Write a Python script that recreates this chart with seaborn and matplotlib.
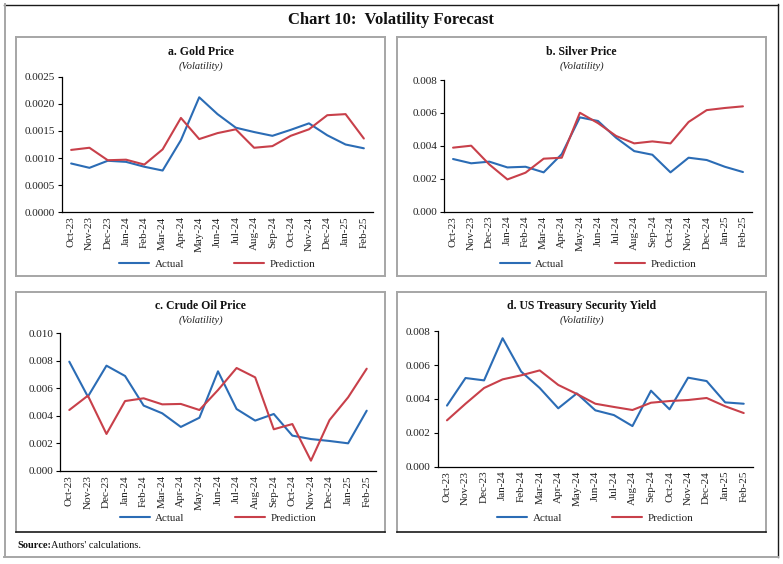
import matplotlib
matplotlib.use("Agg")
import matplotlib.pyplot as plt
from matplotlib.lines import Line2D
import seaborn as sns
import pandas as pd
import numpy as np

months = ["Oct-23", "Nov-23", "Dec-23", "Jan-24", "Feb-24", "Mar-24", "Apr-24", "May-24",
          "Jun-24", "Jul-24", "Aug-24", "Sep-24", "Oct-24", "Nov-24", "Dec-24", "Jan-25", "Feb-25"]

gold_actual = [0.00090, 0.00082, 0.00095, 0.00093, 0.00084, 0.00077, 0.00133, 0.00212, 0.00181,
               0.00156, 0.00148, 0.00141, 0.00152, 0.00164, 0.00142, 0.00125, 0.00118]
gold_pred = [0.00115, 0.00119, 0.00096, 0.00097, 0.00088, 0.00116, 0.00174, 0.00135, 0.00146,
             0.00153, 0.00119, 0.00122, 0.00141, 0.00153, 0.00179, 0.00181, 0.00136]

silver_actual = [0.00320, 0.00294, 0.00304, 0.00269, 0.00273, 0.00239, 0.00350, 0.00573, 0.00551,
                 0.00449, 0.00368, 0.00346, 0.00239, 0.00328, 0.00314, 0.00273, 0.00241]
silver_pred = [0.00389, 0.00401, 0.00287, 0.00196, 0.00237, 0.00322, 0.00328, 0.00601, 0.00538,
               0.00460, 0.00415, 0.00427, 0.00415, 0.00545, 0.00617, 0.00630, 0.00640]

crude_actual = [0.00794, 0.00540, 0.00765, 0.00690, 0.00475, 0.00419, 0.00320, 0.00387, 0.00724,
                0.00450, 0.00366, 0.00414, 0.00257, 0.00232, 0.00218, 0.00201, 0.00438]
crude_pred = [0.00443, 0.00547, 0.00269, 0.00508, 0.00528, 0.00484, 0.00487, 0.00443, 0.00588,
              0.00748, 0.00680, 0.00303, 0.00341, 0.00075, 0.00370, 0.00535, 0.00743]

ust_actual = [0.00361, 0.00524, 0.00510, 0.00759, 0.00562, 0.00465, 0.00345, 0.00433, 0.00333,
              0.00305, 0.00240, 0.00449, 0.00339, 0.00526, 0.00506, 0.00380, 0.00372]
ust_pred = [0.00274, 0.00372, 0.00465, 0.00516, 0.00540, 0.00569, 0.00483, 0.00430, 0.00372,
            0.00353, 0.00335, 0.00378, 0.00388, 0.00394, 0.00406, 0.00357, 0.00317]

series_names = ["Actual", "Prediction"]
panel_titles = ["a. Gold Price", "b. Silver Price", "c. Crude Oil Price", "d. US Treasury Security Yield"]
subtitle = "(Volatility)"
main_title = "Chart 10:  Volatility Forecast"
source_bold = "Source:"
source_text = "Authors' calculations."

y_limits = [(0.0, 0.0025, 0.0005, "{:.4f}"), (0.0, 0.008, 0.002, "{:.3f}"),
            (0.0, 0.010, 0.002, "{:.3f}"), (0.0, 0.008, 0.002, "{:.3f}")]

colors = {"Actual": "#2b6cb5", "Prediction": "#c8404a"}

sns.set_theme(style="white")
plt.rcParams["font.family"] = ["Liberation Serif", "DejaVu Serif"]

W, H = 783, 564
fig = plt.figure(figsize=(W / 100, H / 100), dpi=100)
fig.patch.set_facecolor("white")


def frac_rect(l, t, r, b):
    return [l / W, 1 - b / H, (r - l) / W, (b - t) / H]


def line_px(x0, y0, x1, y1, color, lw):
    fig.add_artist(Line2D([x0 / W, x1 / W], [1 - y0 / H, 1 - y1 / H], color=color, lw=lw,
                          transform=fig.transFigure, solid_capstyle="projecting"))


gray = "#a6a6a6"
dark = "#1a1a1a"
# outer frame
line_px(4, 4.5, 778, 4.5, dark, 1.0)
line_px(777.5, 4, 777.5, 557, dark, 1.0)
line_px(4.5, 4, 4.5, 557, gray, 1.4)
line_px(4, 556.5, 778, 556.5, gray, 1.4)

# panel boxes
boxes = [(16, 37, 385, 276), (397, 37, 766, 276), (16, 292, 385, 532), (397, 292, 766, 532)]
for i, (l, t, r, b) in enumerate(boxes):
    line_px(l, t, r, t, gray, 1.4)
    line_px(l, t, l, b, gray, 1.4)
    line_px(r, t, r, b, gray, 1.4)
    line_px(l, b, r, b, dark if i >= 2 else gray, 1.2 if i >= 2 else 1.4)

fig.text(391 / W, 1 - 20 / H, main_title, ha="center", va="center", fontsize=12,
         fontweight="bold", color="#111111")
fig.text(17 / W, 1 - 545 / H, source_bold, ha="left", va="center", fontsize=7.5,
         fontweight="bold", color="#111111")
fig.text(51 / W, 1 - 545 / H, source_text, ha="left", va="center", fontsize=7.5, color="#111111")

axes_px = [(62, 76.7, 373, 212.3), (444, 80, 752, 211.7), (60, 333.3, 376, 471), (437.7, 331.3, 753, 466.7)]
title_y = [(52, 66), (52, 66), (306, 320), (306, 320)]
data_sets = [(gold_actual, gold_pred), (silver_actual, silver_pred),
             (crude_actual, crude_pred), (ust_actual, ust_pred)]

for k in range(4):
    l, t, r, b = axes_px[k]
    ax = fig.add_axes(frac_rect(l, t, r, b))
    act, pred = data_sets[k]
    df = pd.DataFrame({
        "idx": list(range(len(months))) * 2,
        "value": list(act) + list(pred),
        "series": ["Actual"] * len(months) + ["Prediction"] * len(months),
    })
    sns.lineplot(data=df, x="idx", y="value", hue="series", palette=colors, ax=ax,
                 legend=False, linewidth=1.5)
    ymin, ymax, step, fmt = y_limits[k]
    ax.set_ylim(ymin, ymax)
    ax.set_xlim(-0.5, len(months) - 0.5)
    yt = np.arange(ymin, ymax + step / 2, step)
    ax.set_yticks(yt)
    ax.set_yticklabels([fmt.format(v) for v in yt], fontsize=8, color="#222222")
    ax.set_xticks(range(len(months)))
    ax.set_xticklabels(months, rotation=90, fontsize=8, color="#222222")
    ax.set_xticks(np.arange(-0.5, len(months), 1.0), minor=True)
    ax.tick_params(axis="x", which="major", length=0, pad=3)
    ax.tick_params(axis="x", which="minor", length=3, width=0.8, color="black", direction="out")
    ax.tick_params(axis="y", which="major", length=3, width=0.8, color="black", direction="out", pad=2,
                   left=True)
    ax.set_xlabel("")
    ax.set_ylabel("")
    for s in ["top", "right"]:
        ax.spines[s].set_visible(False)
    for s in ["left", "bottom"]:
        ax.spines[s].set_color("black")
        ax.spines[s].set_linewidth(0.9)
    ax.set_facecolor("white")
    ax.grid(False)

    cx = (boxes[k][0] + boxes[k][2]) / 2
    ty, sy = title_y[k]
    fig.text(cx / W, 1 - ty / H, panel_titles[k], ha="center", va="center", fontsize=8.5,
             fontweight="bold", color="#111111")
    fig.text(cx / W, 1 - sy / H, subtitle, ha="center", va="center", fontsize=7.5,
             style="italic", color="#222222")

    handles = [Line2D([], [], color=colors[n], lw=1.5) for n in series_names]
    leg_y = 264 if k < 2 else 518
    leg_pos = (leg_y - b) / (b - t)
    ax.legend(handles, series_names, loc="center", bbox_to_anchor=(0.5, -leg_pos),
              ncol=2, frameon=False, fontsize=8, handlelength=2.7, handletextpad=0.5,
              columnspacing=4.5, borderaxespad=0)

fig.savefig("out.png", dpi=100, facecolor="white")
